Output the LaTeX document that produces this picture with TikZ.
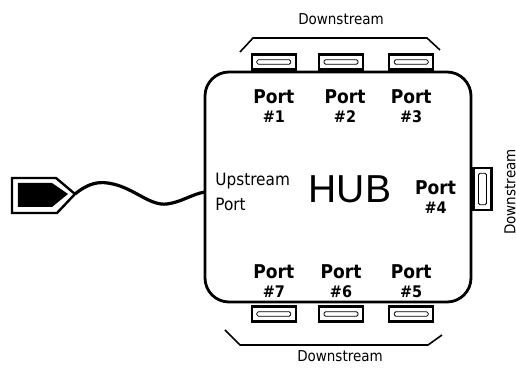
\documentclass[tikz,border=0pt]{standalone}
\usepackage{fontspec}
\usetikzlibrary{positioning}
\newfontfamily\condfont{DejaVu Sans Condensed}
\newfontfamily\hubfont{Liberation Sans}
\newcommand{\portno}[1]{{\fontsize{8}{9}\selectfont\##1}}

\begin{document}
\begin{tikzpicture}[x=0.5pt, y=-0.5pt, node distance=10pt]

\tikzstyle{hubbox} = [rectangle, draw, line width=1.4pt, rounded corners=12pt, minimum width=133pt, minimum height=115pt];
\tikzstyle{portbox} = [rectangle, draw, line width=1.1pt, fill=white, minimum width=22pt, minimum height=7.5pt, inner sep=0pt,
  path picture={\draw[line width=0.4pt, rounded corners=0.8pt] ([shift={(2.5pt,-2.6pt)}]path picture bounding box.north west) rectangle ([shift={(-2.5pt,2.6pt)}]path picture bounding box.south east);}];
\tikzstyle{vportbox} = [portbox, minimum width=9pt, minimum height=21pt];
\tikzstyle{portlabel} = [align=center, inner sep=1pt, font=\condfont\bfseries\fontsize{9.5}{9.5}\selectfont];
\tikzstyle{streamlabel} = [inner sep=1pt, font=\condfont\fontsize{7.5}{9}\selectfont];

\useasboundingbox (0,0) rectangle (516,369);

% Hub
\node (hub) [hubbox] at (338,187) {};
\node (hublabel) [font=\hubfont\fontsize{19.5}{20}\selectfont] at (350,189) {HUB};

% Top ports
\node (p2) [portbox, above=0pt of hub.north, xshift=1.5pt] {};
\node (p1) [portbox, left=10.5pt of p2] {};
\node (p3) [portbox, right=12pt of p2] {};
\node (l1) [portlabel, below=8.5pt of p1] {Port\\\portno{1}};
\node (l2) [portlabel, below=8.5pt of p2, xshift=2pt] {Port\\\portno{2}};
\node (l3) [portlabel, below=8.5pt of p3] {Port\\\portno{3}};

% Bottom ports
\node (p6) [portbox, below=1pt of hub.south, xshift=1.5pt] {};
\node (p7) [portbox, left=10.5pt of p6] {};
\node (p5) [portbox, right=12pt of p6] {};
\node (l7) [portlabel, above=2.5pt of p7] {Port\\\portno{7}};
\node (l6) [portlabel, above=2.5pt of p6] {Port\\\portno{6}};
\node (l5) [portlabel, above=2.5pt of p5] {Port\\\portno{5}};

% Right port
\node (p4) [vportbox, anchor=west, yshift=-1pt] at (hub.east) {};
\node (l4) [portlabel, left=7pt of p4, yshift=-4pt] {Port\\\portno{4}};

% Downstream labels
\node (dtop) [streamlabel] at (341,19) {Downstream};
\node (dbottom) [streamlabel] at (340,356) {Downstream};
\node (dright) [streamlabel, rotate=90] at (510,192) {Downstream};
\draw[line width=0.8pt] (240,52) -- (253,38) -- (427,38) -- (440,50);
\draw[line width=0.8pt] (225,330) -- (240,345) -- (428,345) -- (442,335);

% Upstream plug and cable
\draw[line width=1.2pt] (12,178) -- (56,178) -- (75,194) -- (57,213) -- (12,213) -- cycle;
\fill (18,183) -- (52,183) -- (68,194) -- (52,207) -- (18,207) -- cycle;
\coordinate (plugtip) at (75,194);
\coordinate (upport) at (205,192);
\node (uplabel) [streamlabel, align=left, right=4pt of upport, font=\condfont\fontsize{8.5}{12.5}\selectfont] {Upstream\\Port};
\draw[line width=1.6pt] (plugtip) .. controls (90,182) and (100,181) .. (113,184) .. controls (135,189) and (150,206) .. (167,204) .. controls (182,202) and (192,194) .. (upport);

\end{tikzpicture}
\end{document}
